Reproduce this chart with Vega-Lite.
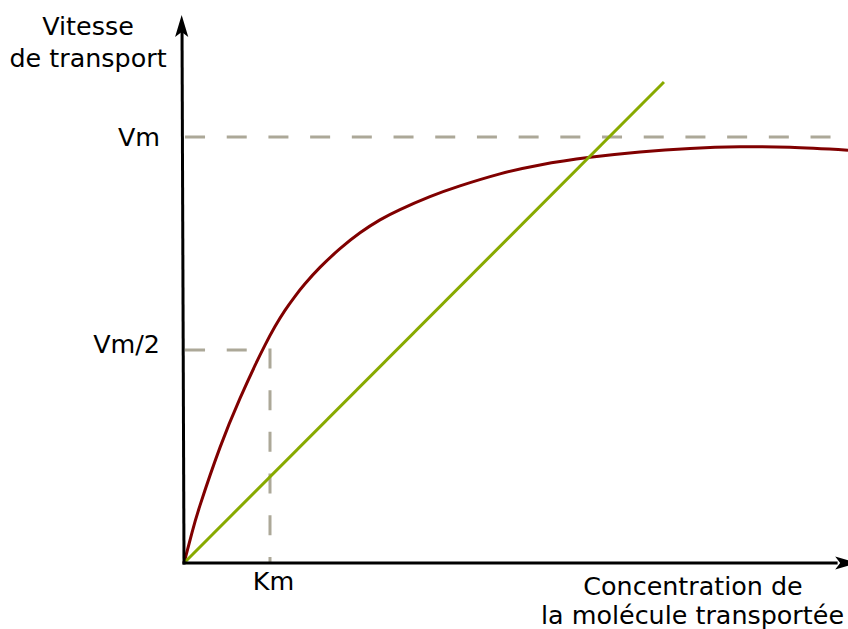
{
  "$schema": "https://vega.github.io/schema/vega-lite/v6.json",
  "width": 848,
  "height": 629,
  "padding": 0,
  "autosize": {"type": "none"},
  "background": "white",
  "config": {"view": {"stroke": null}},
  "datasets": {
    "curve": [
      {"c": 0, "v": 0},
      {"c": 0.093, "v": 0.0714},
      {"c": 0.186, "v": 0.1352},
      {"c": 0.419, "v": 0.2714},
      {"c": 0.651, "v": 0.3864},
      {"c": 0.826, "v": 0.4638},
      {"c": 0.942, "v": 0.5115},
      {"c": 1.058, "v": 0.5549},
      {"c": 1.174, "v": 0.593},
      {"c": 1.291, "v": 0.6261},
      {"c": 1.407, "v": 0.6554},
      {"c": 1.581, "v": 0.6939},
      {"c": 1.814, "v": 0.7378},
      {"c": 2.047, "v": 0.7751},
      {"c": 2.279, "v": 0.8054},
      {"c": 2.512, "v": 0.8296},
      {"c": 2.86, "v": 0.8599},
      {"c": 3.209, "v": 0.8852},
      {"c": 3.674, "v": 0.9134},
      {"c": 4.14, "v": 0.9345},
      {"c": 4.721, "v": 0.9523},
      {"c": 5.302, "v": 0.965},
      {"c": 5.884, "v": 0.9732},
      {"c": 6.465, "v": 0.977},
      {"c": 7.047, "v": 0.9758},
      {"c": 7.721, "v": 0.969}
    ],
    "linear": [
      {"c": 0, "v": 0},
      {"c": 5.581, "v": 1.129}
    ],
    "guides": [
      {"g": "half", "i": 0, "c": 0.012, "v": 0.5},
      {"g": "half", "i": 1, "c": 1, "v": 0.5},
      {"g": "half", "i": 2, "c": 1, "v": 0},
      {"g": "vm", "i": 0, "c": 0.012, "v": 1},
      {"g": "vm", "i": 1, "c": 7.75, "v": 1}
    ],
    "axes": [
      {"g": "y", "i": 0, "c": 0, "v": -0.0035},
      {"g": "y", "i": 1, "c": -0.023, "v": 1.25},
      {"g": "x", "i": 0, "c": -0.017, "v": 0},
      {"g": "x", "i": 1, "c": 7.6, "v": 0}
    ],
    "yTip": [{"c": -0.027, "v": 1.2606}],
    "xTip": [{"c": 7.7, "v": 0}],
    "labelsRight": [
      {"t": "Vm", "c": -0.279, "v": 0.9796},
      {"t": "Vm/2", "c": -0.279, "v": 0.4923}
    ],
    "labelsCenter": [
      {"t": "Vitesse", "c": -1.116, "v": 1.2394},
      {"t": "de transport", "c": -1.116, "v": 1.165},
      {"t": "Km", "c": 1.041, "v": -0.0634},
      {"t": "Concentration de", "c": 5.919, "v": -0.0751},
      {"t": "la molécule transportée", "c": 5.913, "v": -0.1432}
    ]
  },
  "encoding": {
    "x": {"field": "c", "type": "quantitative", "scale": {"domain": [-2.13953, 7.72093], "nice": false, "zero": false}, "axis": null},
    "y": {"field": "v", "type": "quantitative", "scale": {"domain": [-0.15493, 1.3216], "nice": false, "zero": false}, "axis": null}
  },
  "layer": [
    {
      "data": {"name": "guides"},
      "mark": {"type": "line", "stroke": "#aca898", "strokeWidth": 3, "strokeDash": [20, 21.7], "strokeCap": "butt"},
      "encoding": {"detail": {"field": "g"}, "order": {"field": "i", "type": "quantitative"}}
    },
    {
      "data": {"name": "curve"},
      "mark": {"type": "line", "stroke": "#800000", "strokeWidth": 3, "interpolate": "natural"},
      "encoding": {}
    },
    {
      "data": {"name": "linear"},
      "mark": {"type": "line", "stroke": "#88aa00", "strokeWidth": 3},
      "encoding": {}
    },
    {
      "data": {"name": "axes"},
      "mark": {"type": "line", "stroke": "#000000", "strokeWidth": 3, "strokeCap": "butt"},
      "encoding": {"detail": {"field": "g"}, "order": {"field": "i", "type": "quantitative"}}
    },
    {
      "data": {"name": "yTip"},
      "mark": {"type": "point", "shape": "M0,-1L0.6,1L0,0.55L-0.6,1Z", "size": 484, "filled": true, "fill": "#000000", "stroke": null, "opacity": 1}
    },
    {
      "data": {"name": "xTip"},
      "mark": {"type": "point", "shape": "M0,-1L0.6,1L0,0.55L-0.6,1Z", "size": 484, "angle": 90, "filled": true, "fill": "#000000", "stroke": null, "opacity": 1}
    },
    {
      "data": {"name": "labelsRight"},
      "mark": {"type": "text", "align": "right", "baseline": "alphabetic", "font": "DejaVu Sans", "fontSize": 25.4, "fill": "#000000"},
      "encoding": {"text": {"field": "t"}}
    },
    {
      "data": {"name": "labelsCenter"},
      "mark": {"type": "text", "align": "center", "baseline": "alphabetic", "font": "DejaVu Sans", "fontSize": 25.4, "fill": "#000000"},
      "encoding": {"text": {"field": "t"}}
    }
  ]
}
